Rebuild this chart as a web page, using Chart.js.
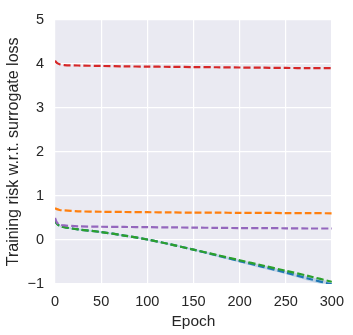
<!DOCTYPE html>
<html>
<head>
<meta charset="utf-8">
<script src="https://cdn.jsdelivr.net/npm/chart.js@4"></script>
<style>
html,body{margin:0;padding:0;background:#fff;}
#wrap{width:353px;height:335px;}
</style>
</head>
<body>
<div id="wrap"><canvas id="c" width="353" height="335"></canvas></div>
<script>
const epochs = [0, 2, 5, 10, 25, 50, 75, 100, 125, 150, 175, 200, 225, 250, 275, 300];
const redLoss    = [4.07, 4.02, 3.99, 3.97, 3.96, 3.95, 3.94, 3.935, 3.93, 3.925, 3.92, 3.915, 3.91, 3.905, 3.9, 3.9];
const orangeLoss = [0.72, 0.70, 0.68, 0.67, 0.65, 0.64, 0.635, 0.63, 0.625, 0.62, 0.62, 0.615, 0.615, 0.61, 0.61, 0.605];
const purpleLoss = [0.50, 0.40, 0.35, 0.33, 0.31, 0.30, 0.295, 0.29, 0.285, 0.28, 0.275, 0.27, 0.27, 0.265, 0.26, 0.26];
const greenLoss  = [0.45, 0.37, 0.32, 0.29, 0.24, 0.18, 0.10, 0.01, -0.10, -0.22, -0.34, -0.46, -0.58, -0.70, -0.82, -0.95];
const blueLoss   = [0.45, 0.37, 0.32, 0.29, 0.24, 0.18, 0.10, 0.01, -0.10, -0.22, -0.35, -0.48, -0.61, -0.74, -0.88, -1.01];
const blueUpper  = [0.47, 0.39, 0.34, 0.31, 0.26, 0.20, 0.12, 0.03, -0.08, -0.20, -0.32, -0.45, -0.57, -0.70, -0.83, -0.96];
const blueLower  = [0.43, 0.35, 0.30, 0.27, 0.22, 0.16, 0.08, -0.01, -0.12, -0.24, -0.38, -0.51, -0.65, -0.78, -0.93, -1.06];
const xTicks = [0, 50, 100, 150, 200, 250, 300];
const yTicks = [-1, 0, 1, 2, 3, 4, 5];

const pts = arr => arr.map((v, i) => ({x: epochs[i], y: v}));
const FONT = "'Liberation Sans', Arial, sans-serif";

const bgPlugin = {
  id: 'bg',
  beforeDraw(chart) {
    const {ctx, chartArea: a} = chart;
    ctx.save();
    ctx.fillStyle = '#EAEAF2';
    ctx.fillRect(a.left, a.top, a.right - a.left, a.bottom - a.top);
    ctx.restore();
  }
};

function ds(label, data, color, order) {
  return {
    label, data: pts(data), borderColor: color, backgroundColor: color,
    borderWidth: 2.2, borderDash: [7, 3], pointRadius: 0, fill: false,
    tension: 0.3, order
  };
}

new Chart(document.getElementById('c'), {
  type: 'line',
  data: {
    datasets: [
      ds('red', redLoss, '#d62728', 0),
      ds('orange', orangeLoss, '#ff7f0e', 0),
      ds('purple', purpleLoss, '#9467bd', 0),
      ds('green', greenLoss, '#2ca02c', 1),
      ds('blue', blueLoss, '#1f77b4', 2),
      {label: 'blueUpper', data: pts(blueUpper), borderWidth: 0, borderColor: 'rgba(0,0,0,0)',
       pointRadius: 0, fill: false, tension: 0.3, order: 3},
      {label: 'blueLower', data: pts(blueLower), borderWidth: 0, borderColor: 'rgba(0,0,0,0)',
       backgroundColor: 'rgba(31,119,180,0.2)', pointRadius: 0, fill: '-1', tension: 0.3, order: 3}
    ]
  },
  options: {
    responsive: false,
    animation: false,
    layout: {padding: {top: 14, right: 20, left: 0, bottom: 0}},
    plugins: {legend: {display: false}, tooltip: {enabled: false}, filler: {propagate: false}},
    scales: {
      x: {
        type: 'linear', min: 0, max: 300,
        afterBuildTicks: s => { s.ticks = xTicks.map(v => ({value: v})); },
        afterFit: s => { s.height = 51; },
        border: {display: false},
        grid: {color: '#ffffff', lineWidth: 1.2, drawTicks: false},
        ticks: {padding: 9, color: '#262626', font: {family: FONT, size: 14.5},
                callback: v => String(v).replace('-', '\u2212')},
        title: {display: true, text: 'Epoch', color: '#262626', font: {family: FONT, size: 15.5}, padding: {top: 1}}
      },
      y: {
        type: 'linear', min: -1, max: 5,
        afterBuildTicks: s => { s.ticks = yTicks.map(v => ({value: v})); },
        afterFit: s => { s.width = 55; },
        border: {display: false},
        grid: {color: '#ffffff', lineWidth: 1.2, drawTicks: false},
        ticks: {padding: 11, color: '#262626', font: {family: FONT, size: 14.5},
                callback: v => String(v).replace('-', '\u2212')},
        title: {display: true, text: 'Training risk w.r.t. surrogate loss', color: '#262626', font: {family: FONT, size: 16}, padding: {bottom: 3}}
      }
    }
  },
  plugins: [bgPlugin]
});
</script>
</body>
</html>
